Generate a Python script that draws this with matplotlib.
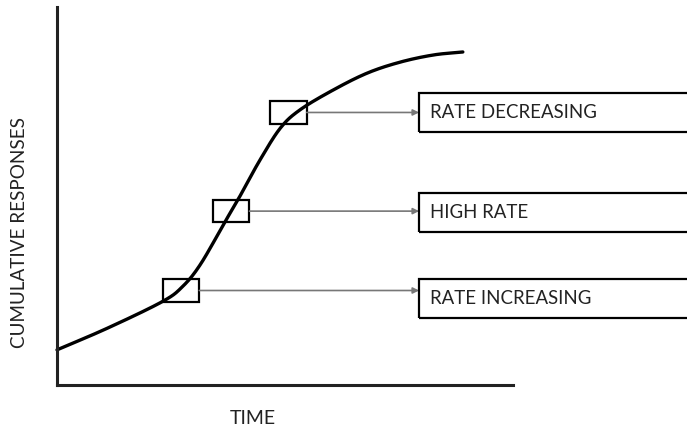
import numpy as np
import matplotlib
matplotlib.use("Agg")
import matplotlib.pyplot as plt
from matplotlib.patches import Rectangle

# ---- data (arbitrary units) ----
times = [0, 11, 23, 27.5, 31.5, 37, 40, 44.5, 49, 53.3, 60.5, 68, 75.2, 82.5, 89]
responses = [9.3, 15, 22, 26, 32, 43.5, 49.7, 59.5, 68, 72.8, 78.0, 82.5, 85.4, 87.3, 88.1]

highlight_x = [27.2, 38.2, 50.75]
highlight_y = [25.0, 46.0, 72.1]
label_y = [22.9, 45.7, 72.15]
labels = ["RATE INCREASING", "HIGH RATE", "RATE DECREASING"]

x_label = "TIME"
y_label = "CUMULATIVE RESPONSES"


def catmull_rom(xs, ys, n=20):
    xs = np.asarray(xs, float)
    ys = np.asarray(ys, float)
    P = np.column_stack([xs, ys])
    P = np.vstack([2 * P[0] - P[1], P, 2 * P[-1] - P[-2]])
    out = []
    t = np.linspace(0, 1, n, endpoint=False)[:, None]
    for i in range(1, len(P) - 2):
        p0, p1, p2, p3 = P[i - 1], P[i], P[i + 1], P[i + 2]
        seg = 0.5 * ((2 * p1) + (-p0 + p2) * t + (2 * p0 - 5 * p1 + 4 * p2 - p3) * t ** 2
                     + (-p0 + 3 * p1 - 3 * p2 + p3) * t ** 3)
        out.append(seg)
    out.append(P[-2][None, :])
    out = np.vstack(out)
    return out[:, 0], out[:, 1]


plt.rcParams['font.family'] = ['Lato', 'DejaVu Sans']

W, H = 687, 430
fig = plt.figure(figsize=(W / 100, H / 100), dpi=100)
ax_left, ax_right, ax_bottom, ax_top = 57, 513, 385, 7
ax = fig.add_axes([ax_left / W, (H - ax_bottom) / H,
                   (ax_right - ax_left) / W, (ax_bottom - ax_top) / H])
ax.set_xlim(0, 100)
ax.set_ylim(0, 100)
for s in ("top", "right"):
    ax.spines[s].set_visible(False)
for s in ("left", "bottom"):
    ax.spines[s].set_linewidth(2.2)
    ax.spines[s].set_color("#222222")
ax.set_xticks([])
ax.set_yticks([])

cx, cy = catmull_rom(times, responses)
ax.plot(cx, cy, color="black", lw=2.4, solid_capstyle="round", clip_on=False)

bw, bh = 8.0, 5.9
label_left = 79.4
for hx, hy, ly, lab in zip(highlight_x, highlight_y, label_y, labels):
    ax.add_patch(Rectangle((hx - bw / 2, hy - bh / 2), bw, bh, fill=False,
                           edgecolor="black", lw=1.6, zorder=3))
    ax.annotate("", xy=(label_left, hy), xytext=(hx + bw / 2, hy),
                arrowprops=dict(arrowstyle="-|>", color="#777777", lw=1.2,
                                mutation_scale=9, shrinkA=0, shrinkB=0))
    ax.add_patch(Rectangle((label_left, ly - 5.1), 70, 10.2, fill=False,
                           edgecolor="black", lw=1.6, clip_on=False, zorder=3))
    ax.text(81.8, ly, lab, fontsize=13.4, color="#222222", va="center", ha="left")

fig.text(253 / W, 1 - 419 / H, x_label, fontsize=14, color="#222222",
         ha="center", va="center")
fig.text(20 / W, 1 - 233 / H, y_label, fontsize=13.6, color="#222222",
         ha="center", va="center", rotation=90)

fig.savefig("out.png", dpi=100)
